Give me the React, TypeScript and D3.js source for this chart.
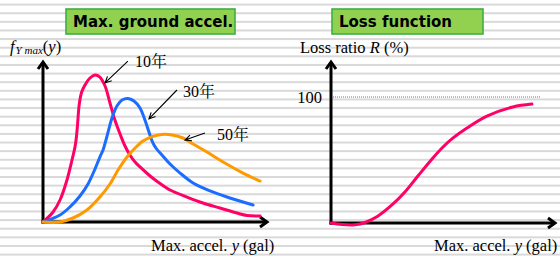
import React, { useEffect, useRef } from "react";
import * as d3 from "d3";

// left panel: density of the max. ground acceleration, one pair per return period
const gal10 = [0, 45, 76, 107, 129.5, 142.8, 148.7, 154, 162, 172.8, 187.5, 209.8, 232, 254, 277, 299, 321, 344, 366, 388, 411, 433, 478, 513, 567, 643, 714, 790, 866, 911, 969];
const pdf10 = [0, 0.0625, 0.1375, 0.2625, 0.3875, 0.469, 0.525, 0.606, 0.7375, 0.8125, 0.856, 0.9, 0.919, 0.906, 0.85, 0.744, 0.6375, 0.55, 0.475, 0.419, 0.375, 0.344, 0.2875, 0.25, 0.2, 0.156, 0.119, 0.0875, 0.056, 0.041, 0.0375];
const gal30 = [0, 76, 120.5, 165, 201, 232, 254, 268, 286, 308, 330, 353, 379, 406, 433, 455, 473, 487, 504, 531, 567, 612, 670, 746, 821, 938];
const pdf30 = [0, 0.044, 0.094, 0.1625, 0.2375, 0.331, 0.406, 0.45, 0.5375, 0.65, 0.725, 0.7625, 0.772, 0.756, 0.7125, 0.6375, 0.5625, 0.506, 0.4625, 0.419, 0.3625, 0.306, 0.244, 0.194, 0.156, 0.106];
const gal50 = [0, 76, 134, 196, 254, 299, 335, 375, 411, 446, 487, 531, 576, 625, 670, 732, 804, 893, 969];
const pdf50 = [0, 0, 0.025, 0.075, 0.156, 0.2375, 0.325, 0.406, 0.4625, 0.506, 0.534, 0.547, 0.544, 0.525, 0.4875, 0.4375, 0.375, 0.306, 0.256];

// labels with their arrows (data units of the left panel)
const annoLabels = ["10年", "30年", "50年"];
const annoTipGal = [277, 473, 634];
const annoTipPdf = [0.869, 0.644, 0.5125];
const annoTailGal = [379, 598, 723];
const annoTailPdf = [1.006, 0.825, 0.556];
const annoTextGal = [411, 625, 777];
const annoTextPdf = [0.969, 0.781, 0.5125];

// right panel: loss function
const galLoss = [0, 49, 107, 152, 210, 272, 330, 388, 455, 500, 545, 607, 696, 812, 897];
const lossRatio = [0, -1.2, -1.4, 0.4, 5.6, 14.3, 24.6, 37.3, 51.6, 60.3, 67.5, 75.4, 84.9, 92.1, 94.4];
const lossTicks = [100];

const W = 560;
const H = 257;
const serif = "'Liberation Serif', 'Times New Roman', serif";
const cjkSerif = "'Liberation Serif', 'Noto Serif CJK JP', 'Noto Sans CJK JP', serif";
const sans = "'DejaVu Sans', Verdana, sans-serif";

function App() {
  const ref = useRef<SVGSVGElement>(null);

  useEffect(() => {
    document.body.style.margin = "0";
    const svg = d3.select(ref.current);
    svg.selectAll("*").remove();

    // striped background
    svg.append("rect").attr("width", W).attr("height", H).attr("fill", "#fff");
    const stripes = d3.range(0, 30);
    svg
      .selectAll("rect.stripe")
      .data(stripes)
      .enter()
      .append("rect")
      .attr("class", "stripe")
      .attr("x", 0)
      .attr("y", (i) => 3.6 + i * 8.62)
      .attr("width", W)
      .attr("height", 2)
      .attr("fill", "#d9d9d9");

    var xL = d3.scaleLinear().domain([0, 1000]).range([43, 267]);
    var yL = d3.scaleLinear().domain([0, 1]).range([222, 62]);
    var xR = d3.scaleLinear().domain([0, 1000]).range([331, 555]);
    var yR = d3.scaleLinear().domain([0, 100]).range([223, 97]);

    // green title boxes
    var title = (x: number, w: number, label: string) => {
      svg
        .append("rect")
        .attr("x", x)
        .attr("y", 9)
        .attr("width", w)
        .attr("height", 25)
        .attr("fill", "#92d050")
        .attr("stroke", "#3cb043")
        .attr("stroke-width", 1.6);
      svg
        .append("text")
        .attr("x", x + 7)
        .attr("y", 27)
        .attr("font-family", sans)
        .attr("font-weight", "bold")
        .attr("font-size", 15)
        .text(label);
    };
    title(66, 169, "Max. ground accel.");
    title(332, 151, "Loss function");

    // axes with open arrow heads
    var axes = (x: d3.ScaleLinear<number, number>, y: d3.ScaleLinear<number, number>, yTop: number) => {
      var x0 = x.range()[0];
      var x1 = x.range()[1];
      var y0 = y.range()[0];
      var g = svg.append("g").attr("fill", "none").attr("stroke", "#000").attr("stroke-width", 3);
      g.append("line").attr("x1", x0).attr("y1", y0 + 1.5).attr("x2", x0).attr("y2", yTop + 1);
      g.append("line").attr("x1", x0 - 1.5).attr("y1", y0).attr("x2", x1 - 1).attr("y2", y0);
      g.append("path").attr("d", `M${x0 - 5},${yTop + 7}L${x0},${yTop}L${x0 + 5},${yTop + 7}`);
      g.append("path").attr("d", `M${x1 - 7},${y0 - 5}L${x1},${y0}L${x1 - 7},${y0 + 5}`);
    };
    axes(xL, yL, yL.range()[1]);
    axes(xR, yR, 62);

    // left curves
    var smooth = d3.line().curve(d3.curveCatmullRom.alpha(0.5));
    var series = [
      { gal: gal10, pdf: pdf10, color: "#ff0066" },
      { gal: gal30, pdf: pdf30, color: "#1a6dff" },
      { gal: gal50, pdf: pdf50, color: "#ff9900" },
    ];
    series.forEach((s) => {
      var pts = s.gal.map((g, i) => [xL(g), yL(s.pdf[i])] as [number, number]);
      svg
        .append("path")
        .attr("d", smooth(pts))
        .attr("fill", "none")
        .attr("stroke", s.color)
        .attr("stroke-width", 3)
        .attr("stroke-linecap", "round");
    });

    // annotations
    annoLabels.forEach((label, i) => {
      var tx = xL(annoTipGal[i]);
      var ty = yL(annoTipPdf[i]);
      var sx = xL(annoTailGal[i]);
      var sy = yL(annoTailPdf[i]);
      var a = Math.atan2(sy - ty, sx - tx);
      var len = 7;
      var spread = 0.45;
      svg
        .append("path")
        .attr(
          "d",
          `M${sx},${sy}L${tx},${ty}M${tx + len * Math.cos(a - spread)},${ty + len * Math.sin(a - spread)}L${tx},${ty}L${tx + len * Math.cos(a + spread)},${ty + len * Math.sin(a + spread)}`
        )
        .attr("fill", "none")
        .attr("stroke", "#000")
        .attr("stroke-width", 1.1);
      svg
        .append("text")
        .attr("x", xL(annoTextGal[i]))
        .attr("y", yL(annoTextPdf[i]))
        .attr("font-family", cjkSerif)
        .attr("font-size", 16)
        .text(label);
    });

    // left labels
    var fy = svg.append("text").attr("x", 10).attr("y", 52).attr("font-family", serif).attr("font-size", 16.5);
    fy.append("tspan").attr("font-style", "italic").text("f");
    fy.append("tspan").attr("font-style", "italic").attr("font-size", 11).attr("dy", 1.5).attr("dx", 1).text("Y max");
    fy.append("tspan").attr("dy", -1.5).text("(");
    fy.append("tspan").attr("font-style", "italic").text("y");
    fy.append("tspan").text(")");

    var accelLabel = (x: number) => {
      var t = svg.append("text").attr("x", x).attr("y", 251).attr("font-family", serif).attr("font-size", 16.5);
      t.append("tspan").text("Max. accel. ");
      t.append("tspan").attr("font-style", "italic").text("y");
      t.append("tspan").text(" (gal)");
    };
    accelLabel(151);
    accelLabel(434);

    // right panel
    var rl = svg.append("text").attr("x", 300).attr("y", 53).attr("font-family", serif).attr("font-size", 16.5);
    rl.append("tspan").text("Loss ratio ");
    rl.append("tspan").attr("font-style", "italic").text("R");
    rl.append("tspan").text(" (%)");

    lossTicks.forEach((t) => {
      svg
        .append("line")
        .attr("x1", xR(0) + 2)
        .attr("x2", 540)
        .attr("y1", yR(t))
        .attr("y2", yR(t))
        .attr("stroke", "#777")
        .attr("stroke-width", 1)
        .attr("stroke-dasharray", "1 1");
      svg
        .append("text")
        .attr("x", 322)
        .attr("y", yR(t) + 6)
        .attr("text-anchor", "end")
        .attr("font-family", serif)
        .attr("font-size", 16.5)
        .text(String(t));
    });

    var lossPts = galLoss.map((g, i) => [xR(g), yR(lossRatio[i])] as [number, number]);
    svg
      .append("path")
      .attr("d", smooth(lossPts))
      .attr("fill", "none")
      .attr("stroke", "#ff0066")
      .attr("stroke-width", 3)
      .attr("stroke-linecap", "round");
  }, []);

  return <svg ref={ref} width={W} height={H} style={{ display: "block" }} />;
}

export default App;
